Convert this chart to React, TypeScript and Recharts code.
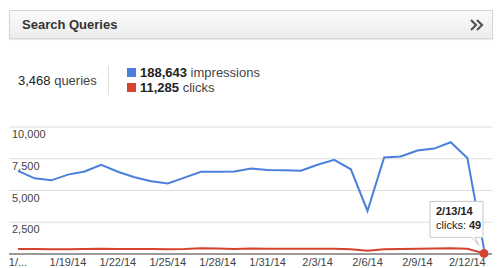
import React from "react";
import {
  CartesianGrid,
  Line,
  LineChart,
  ReferenceDot,
  XAxis,
  YAxis,
} from "recharts";

const dates = [
  "1/16/14", "1/17/14", "1/18/14", "1/19/14", "1/20/14", "1/21/14", "1/22/14",
  "1/23/14", "1/24/14", "1/25/14", "1/26/14", "1/27/14", "1/28/14", "1/29/14",
  "1/30/14", "1/31/14", "2/1/14", "2/2/14", "2/3/14", "2/4/14", "2/5/14",
  "2/6/14", "2/7/14", "2/8/14", "2/9/14", "2/10/14", "2/11/14", "2/12/14",
  "2/13/14",
];

const impressions = [
  6550, 5960, 5800, 6250, 6500, 7030, 6480, 6040, 5730, 5550, 6010, 6480, 6480,
  6500, 6740, 6610, 6590, 6560, 7030, 7420, 6670, 3390, 7600, 7680, 8150, 8300,
  8800, 7550, 400,
];

const clicks = [
  400, 390, 370, 380, 400, 410, 390, 390, 390, 380, 400, 450, 430, 400, 430,
  420, 420, 410, 420, 420, 380, 250, 380, 400, 420, 440, 450, 410, 49,
];

const xTicks = [
  "1/16/14", "1/19/14", "1/22/14", "1/25/14", "1/28/14", "1/31/14", "2/3/14",
  "2/6/14", "2/9/14", "2/12/14",
];
const yTicks = [0, 2500, 5000, 7500, 10000];

const BLUE = "#4a80dc";
const RED = "#d5432e";
const FONT = "Arial, 'Liberation Sans', sans-serif";

const data = dates.map((date, i) => ({
  date,
  impressions: impressions[i],
  clicks: clicks[i],
}));

function XTick({ x, y, payload, index }: any) {
  const label = index === 0 ? "1/..." : payload.value;
  return (
    <text x={x} y={y + 10} textAnchor="middle" fontSize={11} fontFamily={FONT} fill="#444">
      {label}
    </text>
  );
}

function YTick({ y, payload }: any) {
  if (payload.value === 0) return null;
  return (
    <text x={12} y={y + 11} textAnchor="start" fontSize={11} fontFamily={FONT} fill="#444">
      {payload.value.toLocaleString("en-US")}
    </text>
  );
}

function TooltipCallout({ viewBox }: any) {
  const cx = viewBox.x;
  const cy = viewBox.y;
  const left = cx - 50;
  const top = cy - 48;
  return (
    <g>
      <path
        d={`M${left},${top} h53 v36 h-8 L${cx - 1},${cy - 4} L${cx - 8},${top + 36} H${left} Z`}
        fill="#fff"
        stroke="#c8c8c8"
        strokeWidth={1}
      />
      <text x={left + 6} y={top + 14} fontSize={11} fontWeight="bold" fontFamily={FONT} fill="#222">
        2/13/14
      </text>
      <text x={left + 6} y={top + 28} fontSize={11} fontFamily={FONT} fill="#222">
        clicks: <tspan fontWeight="bold">49</tspan>
      </text>
    </g>
  );
}

export default function App() {
  return (
    <div
      style={{
        position: "absolute",
        left: 0,
        top: 0,
        width: 500,
        height: 268,
        background: "#fff",
        fontFamily: FONT,
        overflow: "hidden",
      }}
    >
      <div
        style={{
          position: "absolute",
          left: 9,
          top: 10,
          width: 482,
          height: 27,
          border: "1px solid #d6d6d6",
          background: "linear-gradient(#fafafa, #ededed)",
          boxShadow: "0 1px 1px rgba(0,0,0,0.08)",
        }}
      >
        <span
          style={{
            position: "absolute",
            left: 12,
            top: 6,
            fontSize: 13,
            fontWeight: "bold",
            color: "#333",
          }}
        >
          Search Queries
        </span>
        <svg width={14} height={12} style={{ position: "absolute", right: 8, top: 8 }}>
          <polyline points="1,1 6,6 1,11" fill="none" stroke="#555" strokeWidth={2.2} />
          <polyline points="7,1 12,6 7,11" fill="none" stroke="#555" strokeWidth={2.2} />
        </svg>
      </div>

      <div style={{ position: "absolute", left: 18, top: 73, fontSize: 13, color: "#444" }}>
        <span style={{ color: "#222" }}>3,468</span> queries
      </div>
      <div
        style={{
          position: "absolute",
          left: 108,
          top: 66,
          width: 1,
          height: 29,
          background: "#e0e0e0",
        }}
      />
      <div style={{ position: "absolute", left: 127, top: 65, fontSize: 13, color: "#444", lineHeight: "15px" }}>
        <div>
          <span style={{ display: "inline-block", width: 9, height: 9, background: BLUE, marginRight: 4 }} />
          <b style={{ color: "#222" }}>188,643</b> impressions
        </div>
        <div>
          <span style={{ display: "inline-block", width: 9, height: 9, background: RED, marginRight: 4 }} />
          <b style={{ color: "#222" }}>11,285</b> clicks
        </div>
      </div>

      <div style={{ position: "absolute", left: 0, top: 0 }}>
        <LineChart
          width={500}
          height={268}
          data={data}
          margin={{ top: 127, right: 8, left: 9, bottom: 0 }}
        >
          <CartesianGrid vertical={false} stroke="#dedede" strokeWidth={1} />
          <XAxis
            dataKey="date"
            ticks={xTicks}
            interval={0}
            height={14}
            padding={{ left: 9, right: 8 }}
            tickLine={false}
            tickSize={0}
            axisLine={{ stroke: "#9a9a9a", strokeWidth: 2 }}
            tick={<XTick />}
          />
          <YAxis
            domain={[0, 10000]}
            ticks={yTicks}
            mirror
            axisLine={false}
            tickLine={false}
            tick={<YTick />}
          />
          <Line
            type="linear"
            dataKey="impressions"
            stroke={BLUE}
            strokeWidth={2}
            dot={false}
            activeDot={false}
            isAnimationActive={false}
          />
          <Line
            type="linear"
            dataKey="clicks"
            stroke={RED}
            strokeWidth={2}
            dot={false}
            activeDot={false}
            isAnimationActive={false}
          />
          <ReferenceDot
            x="2/13/14"
            y={49}
            r={4}
            fill={RED}
            stroke={RED}
            label={<TooltipCallout />}
          />
        </LineChart>
      </div>
    </div>
  );
}
